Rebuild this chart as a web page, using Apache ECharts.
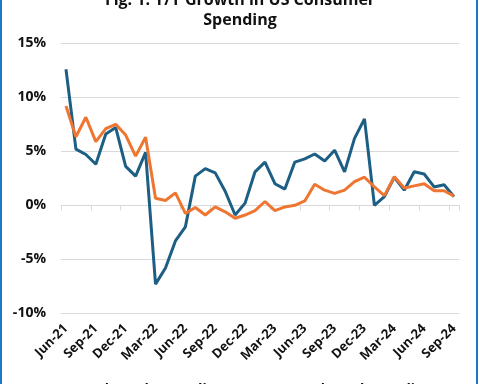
<!DOCTYPE html>
<html>
<head>
<meta charset="utf-8">
<script src="https://cdn.jsdelivr.net/npm/echarts@6/dist/echarts.min.js"></script>
<style>
html,body{margin:0;padding:0;background:#fff;}
#wrap{position:relative;width:480px;height:384px;overflow:hidden;background:#fff;}
#chart{position:absolute;left:0;top:0;width:480px;height:384px;}
.bl{position:absolute;top:0;width:2px;height:384px;background:#1f77c8;}
</style>
</head>
<body>
<div id="wrap">
<div id="chart"></div>
<div class="bl" style="left:0"></div>
<div class="bl" style="left:476px"></div>
</div>
<script>
const titleText = 'Fig. 1: Y/Y Growth in US Consumer\nSpending';
const categories = [
 'Jun-21','Jul-21','Aug-21','Sep-21','Oct-21','Nov-21','Dec-21','Jan-22','Feb-22','Mar-22',
 'Apr-22','May-22','Jun-22','Jul-22','Aug-22','Sep-22','Oct-22','Nov-22','Dec-22','Jan-23',
 'Feb-23','Mar-23','Apr-23','May-23','Jun-23','Jul-23','Aug-23','Sep-23','Oct-23','Nov-23',
 'Dec-23','Jan-24','Feb-24','Mar-24','Apr-24','May-24','Jun-24','Jul-24','Aug-24','Sep-24'];
const seriesNames = ['Real Goods Spending', 'Real Total Spending'];
const tealValues = [12.6,5.2,4.7,3.8,6.6,7.2,3.6,2.7,4.9,-7.3,
 -5.8,-3.3,-2.0,2.7,3.4,3.0,1.3,-0.9,0.2,3.1,
 4.0,2.0,1.5,4.0,4.3,4.75,4.1,5.1,3.1,6.2,
 8.0,0.0,0.8,2.6,1.4,3.1,2.9,1.7,1.9,0.8];
const orangeValues = [9.2,6.35,8.15,5.9,7.1,7.5,6.5,4.55,6.3,0.65,
 0.45,1.15,-0.75,-0.2,-0.9,-0.15,-0.6,-1.2,-0.9,-0.5,
 0.35,-0.5,-0.15,0.0,0.4,1.95,1.4,1.1,1.4,2.2,
 2.6,1.7,0.9,2.65,1.6,1.8,2.0,1.35,1.35,0.85];
const yTicks = [-10,-5,0,5,10,15];

const font = '"Open Sans", "DejaVu Sans", sans-serif';
const chart = echarts.init(document.getElementById('chart'), null, {renderer:'canvas'});
chart.setOption({
  backgroundColor:'#ffffff',
  animation:false,
  title:{
    text:titleText, left:'center', top:-15,
    textStyle:{fontFamily:font, fontSize:16, fontWeight:'bold', color:'#111', lineHeight:20}
  },
  legend:{
    bottom:-18, left:'center', itemGap:40,
    textStyle:{fontFamily:font, fontSize:14, fontWeight:'bold', color:'#111'},
    data:seriesNames
  },
  grid:{left:61, right:21, top:43.3, bottom:70.7, containLabel:false},
  xAxis:[{
    type:'category', data:categories, boundaryGap:true,
    axisLine:{show:false, onZero:false},
    axisTick:{show:false},
    axisLabel:{interval:2, rotate:45, margin:13, fontFamily:font, fontSize:13, fontWeight:'bold', color:'#111'}
  },{
    type:'category', data:categories, boundaryGap:true, position:'bottom',
    axisLine:{show:true, onZero:true, lineStyle:{color:'#d9d9d9', width:1}},
    axisTick:{show:true, interval:2, length:5, lineStyle:{color:'#d9d9d9'}},
    axisLabel:{show:false}, splitLine:{show:false}
  }],
  yAxis:{
    type:'value', min:yTicks[0], max:yTicks[yTicks.length-1], interval:5,
    axisLine:{show:false}, axisTick:{show:false},
    axisLabel:{formatter:v=>v+'%', margin:15, fontFamily:font, fontSize:14, fontWeight:'bold', color:'#111'},
    splitLine:{lineStyle:{color:'#d9d9d9', width:1}}
  },
  series:[
    {name:seriesNames[0], type:'line', data:tealValues, symbol:'none', xAxisIndex:0,
     lineStyle:{color:'#1d5f84', width:3}, itemStyle:{color:'#1d5f84'}},
    {name:seriesNames[1], type:'line', data:orangeValues, symbol:'none', xAxisIndex:0, z:3,
     lineStyle:{color:'#ee7631', width:3}, itemStyle:{color:'#ee7631'}}
  ]
});
</script>
</body>
</html>
